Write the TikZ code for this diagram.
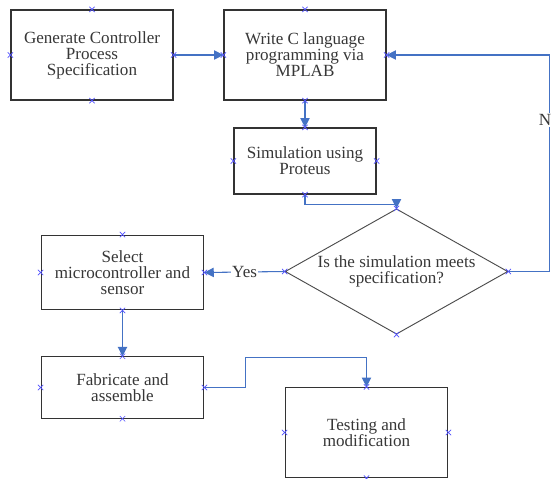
\documentclass[tikz,border=0pt]{standalone}
\usepackage{fontspec}
\setmainfont{Liberation Serif}
\definecolor{flowline}{RGB}{68, 114, 196}
\definecolor{pointmark}{RGB}{80, 80, 255}
\definecolor{boxtext}{RGB}{55, 55, 55}
\usetikzlibrary{shapes.geometric, arrows.meta, calc}

\begin{document}
\begin{tikzpicture}[x=0.75pt, y=-0.75pt,
        stepbox/.style={draw=black!80, line width=0.9pt, inner sep=0pt, align=center,
            text=boxtext, font=\fontsize{12.8}{12}\selectfont},
        decision/.style={diamond, draw=black!70, line width=0.7pt, inner sep=0pt, shape aspect=1.78,
            minimum width=167pt, minimum height=94pt, align=center,
            text=boxtext, font=\fontsize{12.8}{12.5}\selectfont},
        flow/.style={draw=flowline, line width=0.8pt, -{Triangle[length=7pt, width=7pt]}},
        flowlabel/.style={fill=white, text=boxtext, inner sep=1pt, font=\fontsize{12.8}{12.5}\selectfont}]
        \useasboundingbox (0,0) rectangle (551,479);

        % Top row
        \node[stepbox, minimum width=121.5pt, minimum height=67.5pt] (spec) at (92,55)
            {Generate Controller\\Process\\Specification};
        \node[stepbox, minimum width=121.5pt, minimum height=67.5pt] (code) at (305,55)
            {Write C language\\programming via\\MPLAB};
        \node[stepbox, minimum width=106.5pt, minimum height=49.5pt] (sim) at (305,161)
            {Simulation using\\Proteus};

        % Decision
        \node[decision] (check) at (396.5,271.5) {Is the simulation meets\\specification?};

        % Left column and testing
        \node[stepbox, minimum width=122pt, minimum height=56pt] (select) at (122.5,272.5)
            {Select\\microcontroller and\\sensor};
        \node[stepbox, minimum width=122pt, minimum height=46pt] (fab) at (122.5,387.5)
            {Fabricate and\\assemble};
        \node[stepbox, minimum width=122pt, minimum height=67.5pt] (test) at (366.5,432.5)
            {Testing and\\modification};

        % Connectors
        \draw[flow] (spec.east) -- (code.west);
        \draw[flow] (code.south) -- (sim.north);
        \draw[flow] (sim.south) -- ++(0,10) -| (check.north);
        \draw[flow] (check.east) -- ++(41,0) |- node[flowlabel, pos=0.35] {No} (code.east);
        \draw[flow] (check.west) -- node[flowlabel] {Yes} (select.east);
        \draw[flow] (select.south) -- (fab.north);
        \draw[flow] (fab.east) -- ++(41,0) -- ++(0,-30) -| (test.north);

        % Connection points
        \foreach \n in {spec, code, sim, check, select, fab, test} {
            \foreach \a in {north, south, east, west} {
                \draw[pointmark, line width=0.5pt] (\n.\a) +(-2pt,-2pt) -- +(2pt,2pt) +(-2pt,2pt) -- +(2pt,-2pt);
            }
        }
    \end{tikzpicture}
\end{document}
